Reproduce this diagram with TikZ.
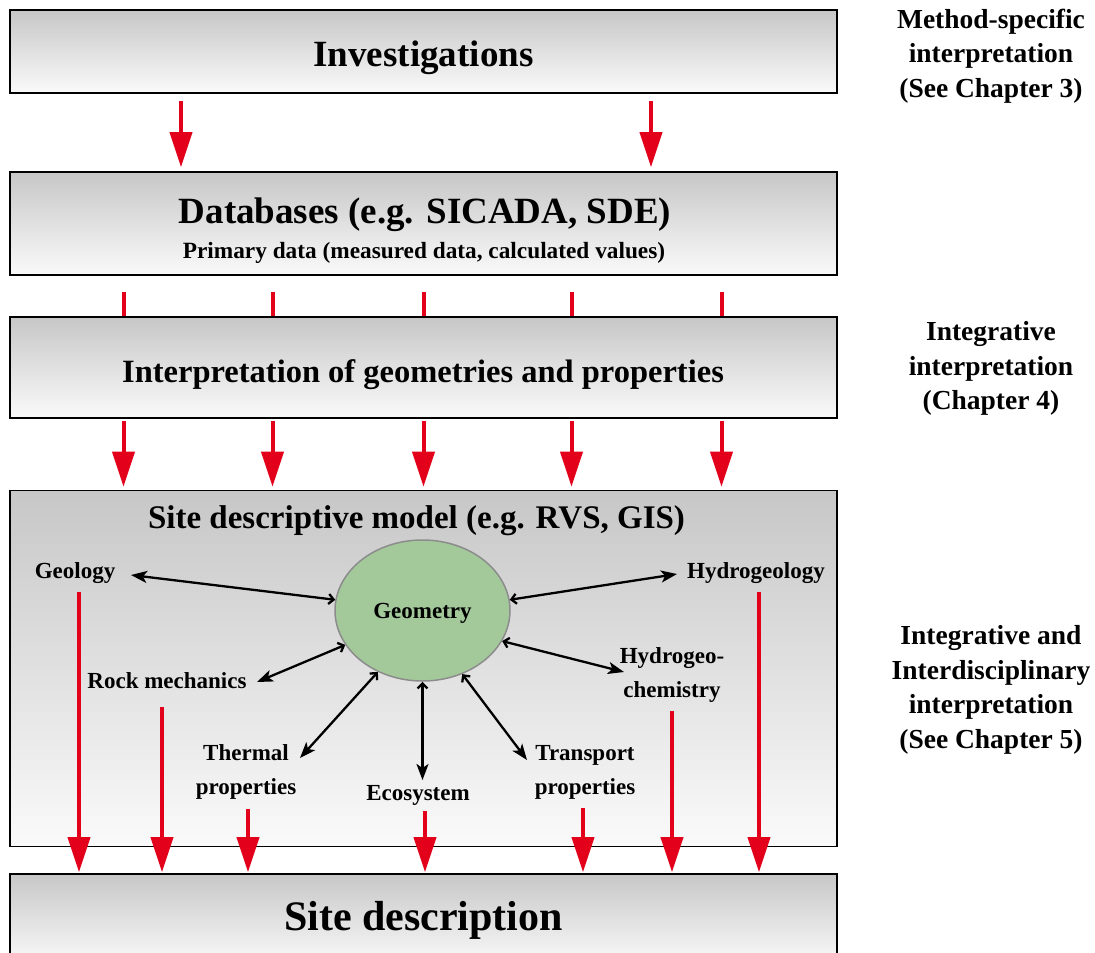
\documentclass[tikz,border=0pt]{standalone}
\usepackage{fontspec}
\setmainfont{Liberation Serif}
\usetikzlibrary{arrows.meta,shapes.geometric}
\definecolor{sitered}{RGB}{226,0,26}
\definecolor{geogreen}{RGB}{163,201,155}
\tikzset{
  panel/.style={draw=black, line width=1.6pt, top color=black!22, bottom color=black!2,
    minimum width=827pt, inner sep=0pt},
  boxtitle/.style={anchor=base, inner sep=0pt, font=\bfseries\fontsize{#1}{#1}\selectfont},
  lab/.style={inner sep=0pt, align=center, font=\bfseries\fontsize{23}{34}\selectfont},
  sidenote/.style={inner sep=0pt, align=center, font=\bfseries\fontsize{27.5}{34.7}\selectfont},
  redline/.style={draw=sitered, line width=4pt},
  redarrow/.style={redline, -{Triangle[width=22pt,length=35pt]}},
  link/.style={line width=2.3pt, {Straight Barb[length=5pt,width=10pt]}-{Stealth[length=16pt,width=12pt,inset=4pt]}}
}
\begin{document}
\begin{tikzpicture}[x=1pt,y=-1pt]
\useasboundingbox (0,0) rectangle (1095,953);

% the five boxes
\node[panel, minimum height=83pt] (inv) at (423.5,51.5) {};
\node[panel, minimum height=103pt] (db) at (423.5,223.5) {};
\node[panel, minimum height=101pt] (interp) at (423.5,367.5) {};
\node[panel, minimum height=356pt] (sdm) at (423.5,668.5) {};
\node[panel, minimum height=90pt] (sd) at (423.5,919) {};

\node[boxtitle=37] (invtext) at (423.5,66) {Investigations};
\node[boxtitle=37] (dbtext) at (425,223) {Databases (e.g. SICADA, SDE)};
\node[boxtitle=23.3] (dbsub) at (424,258) {Primary data (measured data, calculated values)};
\node[boxtitle=32.5] (interptext) at (423,382) {Interpretation of geometries and properties};
\node[boxtitle=33] (sdmtext) at (416.5,528) {Site descriptive model (e.g. RVS, GIS)};
\node[boxtitle=42] (sdtext) at (423.5,930) {Site description};

% right hand notes
\node[sidenote] (note3) at (991,56) {Method-specific\\interpretation\\(See Chapter 3)};
\node[sidenote] (note4) at (991,368.5) {Integrative\\interpretation\\(Chapter 4)};
\node[sidenote] (note5) at (991,690) {Integrative and\\Interdisciplinary\\interpretation\\(See Chapter 5)};

% red arrows between the boxes
\foreach \dx in {-242.5,227.5}
  \draw[redarrow] ([xshift=\dx pt,yshift=-7pt]inv.south) -- ([xshift=\dx pt,yshift=4pt]db.north);
\foreach \dx in {-300,-151,0,148,298}{
  \draw[redline] ([xshift=\dx pt,yshift=-16pt]db.south) -- ([xshift=\dx pt]interp.north);
  \draw[redarrow] ([xshift=\dx pt,yshift=-2pt]interp.south) -- ([xshift=\dx pt,yshift=3pt]sdm.north);
}

% site descriptive model
\node[ellipse, draw=black!45, line width=1.5pt, fill=geogreen, minimum width=175pt, minimum height=141pt,
  inner sep=0pt, text depth=0pt, font=\bfseries\fontsize{23}{23}\selectfont] (geo) at (422.5,610.5) {Geometry};

\node[lab] (geology) at (75,573) {Geology};
\node[lab] (hydrogeology) at (756,573) {Hydrogeology};
\node[lab] (rock) at (167,681) {Rock mechanics};
\node[lab] (chem) at (672,675) {Hydrogeo-\\chemistry};
\node[lab] (thermal) at (246,772) {Thermal\\properties};
\node[lab] (eco) at (418,795) {Ecosystem};
\node[lab] (transport) at (585,772) {Transport\\properties};

\coordinate (tgeology) at (131,575);
\coordinate (thydro) at (677,574);
\coordinate (trock) at (257,682);
\coordinate (tchem) at (624,672);
\coordinate (ttherm) at (300,758);
\coordinate (teco) at (422.5,780);
\coordinate (ttrans) at (527,760);

\foreach \a/\t in {173/tgeology, 7/thydro, 204/trock, 339/tchem, 234/ttherm, 270/teco, 302/ttrans}
  \draw[link] (geo.\a) -- (\t);

% down to the site description
\foreach \n/\dx/\dy in {geology/4/8, rock/-5/18, thermal/2/9, eco/7/6, transport/-2/9, chem/0/8, hydrogeology/3/8}{
  \coordinate (s) at ([xshift=\dx pt,yshift=-\dy pt]\n.south);
  \draw[redarrow, shorten >=1pt] (s) -- (s |- sd.north);
}
\end{tikzpicture}
\end{document}
